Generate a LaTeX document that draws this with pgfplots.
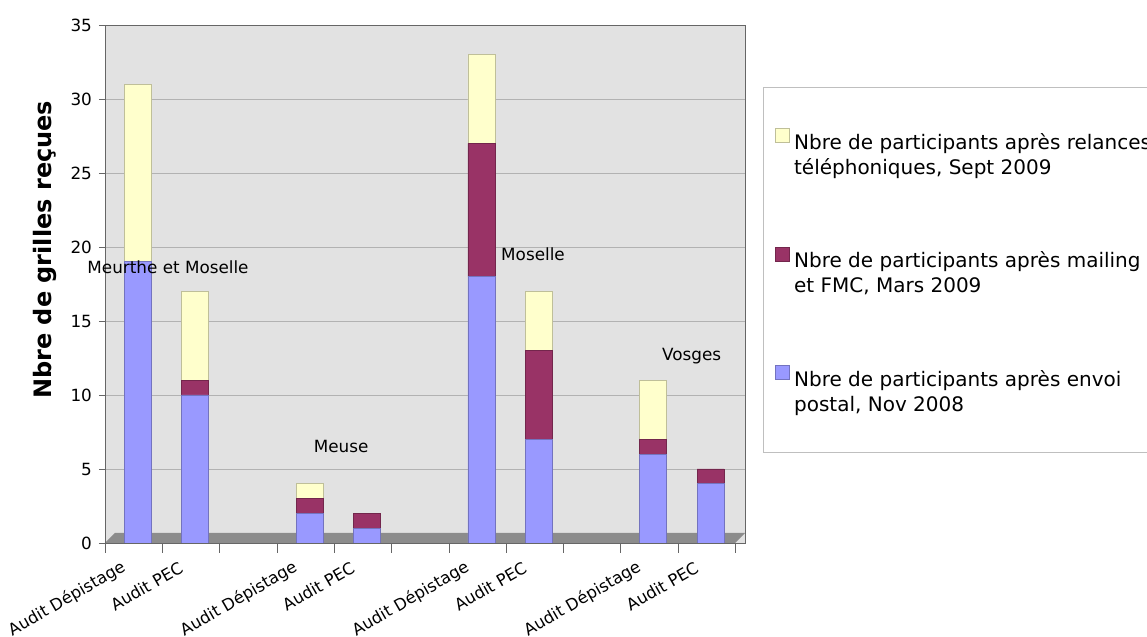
\documentclass[border=0pt]{standalone}
\usepackage{fontspec}
\setmainfont{DejaVu Sans}
\usepackage{pgfplots}
\pgfplotsset{compat=1.18}
\definecolor{bleu}{HTML}{9999FF}
\definecolor{bordeaux}{HTML}{993366}
\definecolor{jaune}{HTML}{FFFFCC}
\definecolor{fond}{HTML}{E2E2E2}
\definecolor{sol}{HTML}{8C8C8C}
\pgfplotsset{
  sqleg/.style={legend image code/.code={\fill[fill=#1] (0pt,-0.5pt) rectangle (7pt,6.5pt);}},
}
\newcommand{\deux}[2]{\begin{tabular}[t]{@{}l@{}}#1\\#2\end{tabular}}
\begin{document}
\begin{tikzpicture}
\useasboundingbox (-52.5pt,-47pt) rectangle (521pt,271.5pt);
% cadre de la légende
\draw[gray!50, fill=white] (329pt,45.5pt) rectangle (530pt,228pt);
\begin{axis}[
  scale only axis, width=320pt, height=259pt,
  xmin=-0.5, xmax=10.67, ymin=0, ymax=35,
  ybar stacked, bar width=13.5pt, bar shift=2pt,
  axis background/.style={fill=fond, path picture={
    \fill[sol] (path picture bounding box.south west) -- ++(315pt,0pt) -- ++(5pt,5pt) -- ++(-315pt,0pt) -- cycle;}},
  axis line style={gray!80!black},
  tick pos=left, tick align=outside,
  major tick length=3pt, minor tick length=5pt,
  tick style={gray!80!black},
  ytick={0,5,...,35}, ymajorgrids, grid style={gray!60},
  yticklabel style={font=\fontsize{8.4}{10}\selectfont},
  xtick={0,1,3,4,6,7,9,10},
  xticklabels={Audit Dépistage,Audit PEC,Audit Dépistage,Audit PEC,Audit Dépistage,Audit PEC,Audit Dépistage,Audit PEC},
  major x tick style={draw=none},
  minor xtick={-0.5,0.5,...,10.5},
  x tick label style={rotate=30, anchor=east, font=\fontsize{8.2}{10}\selectfont, xshift=-5pt, yshift=-5pt},
  /pgf/number format/assume math mode=true,
  ylabel={\bfseries Nbre de grilles reçues},
  ylabel style={font=\fontsize{12}{14}\selectfont, at={(axis description cs:-0.094,0.566)}, anchor=center},
  reverse legend,
  legend cell align=left,
  legend style={at={(1.028,0.880)}, anchor=north west, draw=none, fill=none,
    font=\fontsize{10}{12.5}\selectfont, row sep=45pt, inner xsep=6pt, inner ysep=20pt},
]
\addplot[fill=bleu, draw=bleu!75!black, sqleg=bleu] coordinates {
  (0,19) (1,10) (3,2) (4,1) (6,18) (7,7) (9,6) (10,4)};
\addlegendentry{\deux{Nbre de participants après envoi}{postal, Nov 2008}}
\addplot[fill=bordeaux, draw=bordeaux!75!black, sqleg=bordeaux] coordinates {
  (0,0) (1,1) (3,1) (4,1) (6,9) (7,6) (9,1) (10,1)};
\addlegendentry{\deux{Nbre de participants après mailing}{et FMC, Mars 2009}}
\addplot[fill=jaune, draw=jaune!75!black, sqleg=jaune] coordinates {
  (0,12) (1,6) (3,1) (4,0) (6,6) (7,4) (9,4) (10,0)};
\addlegendentry{\deux{Nbre de participants après relances}{téléphoniques, Sept 2009}}
\coordinate (r1) at (axis cs:0.6,18.6);
\coordinate (r2) at (axis cs:3.62,6.55);
\coordinate (r3) at (axis cs:6.97,19.5);
\coordinate (r4) at (axis cs:9.74,12.6);
\end{axis}
\begin{scope}[every node/.style={font=\fontsize{8.4}{10}\selectfont}]
\node at (r1) {Meurthe et Moselle};
\node at (r2) {Meuse};
\node at (r3) {Moselle};
\node at (r4) {Vosges};
\end{scope}
\end{tikzpicture}
\end{document}
